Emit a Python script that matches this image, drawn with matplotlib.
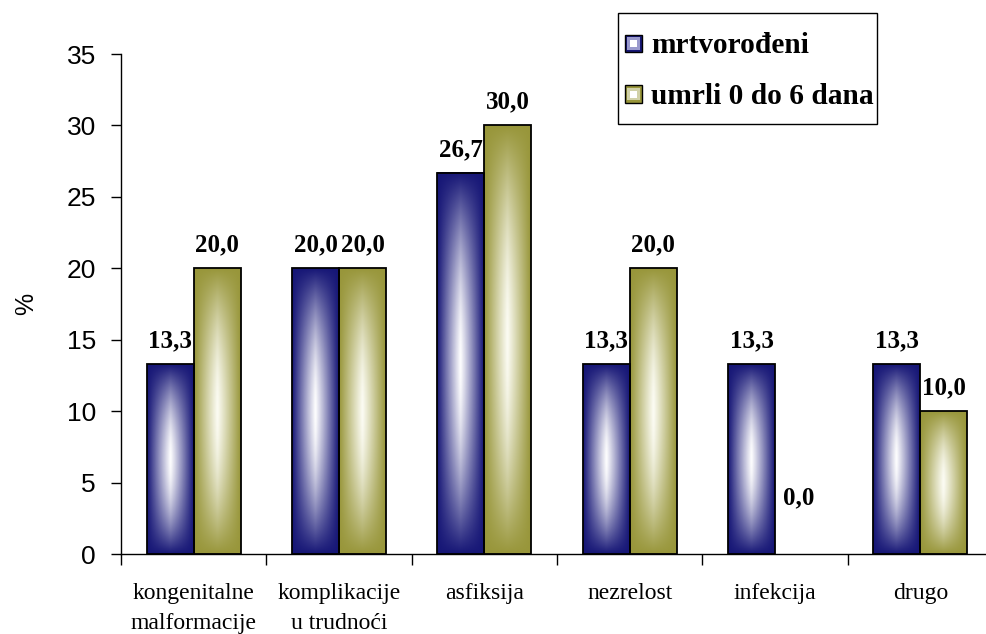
import numpy as np
import matplotlib
matplotlib.use("Agg")
import matplotlib.pyplot as plt
from matplotlib.patches import Rectangle, Patch

categories = ["kongenitalne\nmalformacije", "komplikacije\nu trudnoći", "asfiksija",
              "nezrelost", "infekcija", "drugo"]
mrtvorodjeni = [13.3, 20.0, 26.7, 13.3, 13.3, 13.3]
umrli_0_6 = [20.0, 20.0, 30.0, 20.0, 0.0, 10.0]
series_names = ["mrtvorođeni", "umrli 0 do 6 dana"]
yticks = [0, 5, 10, 15, 20, 25, 30, 35]

blue_edge = np.array([22, 22, 118]) / 255
olive_edge = np.array([152, 150, 58]) / 255
olive_center = np.array([252, 252, 244]) / 255

serif = "Liberation Serif"
sans = "Liberation Sans"


def gradient(edge, center=np.ones(3), nx=80, ny=300):
    # light centre fading out to the edge colour on all four sides
    u = np.abs(np.linspace(-1, 1, nx))
    v = np.abs(np.linspace(-1, 1, ny))
    light = (1 - u[None, :] ** 1.05) * (1 - v[:, None] ** 1.9)
    light = light[..., None]
    return edge[None, None, :] * (1 - light) + center[None, None, :] * light


fig = plt.figure(figsize=(9.86, 6.34), dpi=100)
ax = fig.add_axes([121 / 986, 80 / 634, 872 / 986, 500 / 634])

w = 0.323
x = np.arange(len(categories))
for vals, edge, center, off in [(mrtvorodjeni, blue_edge, np.ones(3), -w / 2),
                                (umrli_0_6, olive_edge, olive_center, w / 2)]:
    img = gradient(edge, center)
    for xi, v in zip(x, vals):
        x0 = xi + off - w / 2
        if v > 0:
            ax.imshow(img, extent=(x0, x0 + w, 0, v), aspect="auto",
                      interpolation="bilinear", zorder=2)
            ax.add_patch(Rectangle((x0, 0), w, v, facecolor="none",
                                   edgecolor="black", lw=1.3, zorder=3))
        # zero values get their label lifted a bit off the axis, like the original
        ax.annotate(f"{v:.1f}".replace(".", ","), (xi + off, max(v, 2.3)),
                    xytext=(0, 12), textcoords="offset points", ha="center",
                    va="baseline", fontsize=18, fontweight="bold",
                    family=serif)

ax.set_xlim(-0.5, len(categories) - 0.5)
ax.set_ylim(0, 35)
ax.set_aspect("auto")

ax.spines["top"].set_visible(False)
ax.spines["right"].set_visible(False)
for s in ["left", "bottom"]:
    ax.spines[s].set_linewidth(1.0)

ax.set_yticks(yticks)
ax.set_yticklabels([str(t) for t in yticks], fontsize=19, family=sans)
ax.tick_params(axis="y", length=7, width=1, pad=11)

ax.set_xticks(np.arange(-0.5, len(categories), 1.0))
ax.set_xticklabels([])
ax.tick_params(axis="x", which="major", length=8, width=1, direction="out")
ax.set_xticks(x, minor=True)
ax.set_xticklabels(categories, minor=True, fontsize=17, family=serif,
                   linespacing=1.55)
ax.tick_params(axis="x", which="minor", length=0, pad=21)

ax.set_ylabel("%", fontsize=18, family=sans)
ax.yaxis.set_label_coords(-0.095, 0.5)


class GradHandler:
    def __init__(self, edge, mid):
        self.edge = edge
        self.mid = mid

    def legend_artist(self, legend, orig_handle, fontsize, handlebox):
        x0, y0 = -handlebox.xdescent, -handlebox.ydescent
        bw, bh = handlebox.width, handlebox.height
        s = 0.6 * fontsize
        first = None
        for frac, col in [(1.0, self.edge), (0.72, self.mid), (0.4, "white")]:
            r = Rectangle((x0 + (bw - s * frac) / 2, y0 + (bh - s * frac) / 2),
                          s * frac, s * frac, facecolor=col,
                          edgecolor="black" if frac == 1.0 else "none",
                          lw=1.0, transform=handlebox.get_transform())
            handlebox.add_artist(r)
            if first is None:
                first = r
        return first


h1 = Patch(label=series_names[0])
h2 = Patch(label=series_names[1])
leg = fig.legend(handles=[h1, h2], loc="upper left",
                 bbox_to_anchor=(615 / 986, 1 - 13 / 634),
                 handler_map={h1: GradHandler(blue_edge, (0.6, 0.6, 0.8)),
                              h2: GradHandler(olive_edge, (0.82, 0.82, 0.66))},
                 prop={"family": serif, "weight": "bold", "size": 21.2},
                 frameon=False, borderaxespad=0, borderpad=0.33,
                 handlelength=0.6, handleheight=1.8, handletextpad=0.3,
                 labelspacing=0.3)
# the original box hugs the text on the right, so draw the frame by hand
fig.patches.append(Rectangle((618 / 986, 1 - 124 / 634), 259 / 986, 111 / 634,
                             transform=fig.transFigure, facecolor="white",
                             edgecolor="black", lw=1.0, zorder=0))

fig.savefig("out.png", dpi=100)
